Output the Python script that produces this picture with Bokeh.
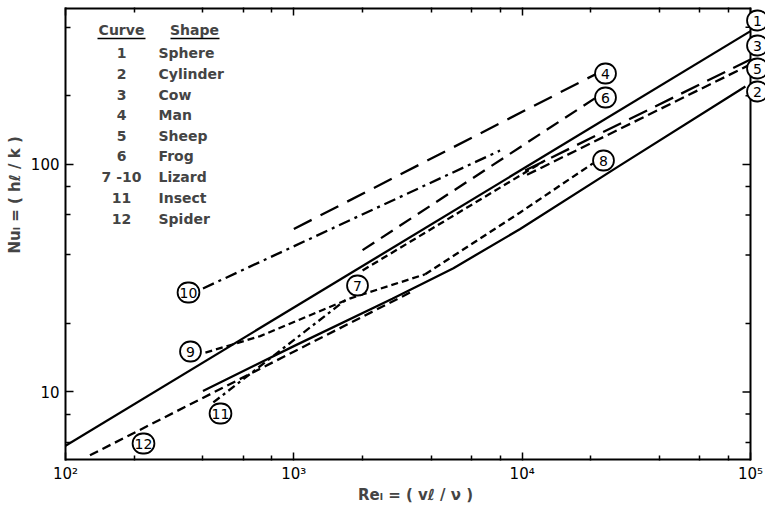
import math
from bokeh.plotting import figure
from bokeh.models import Label, LogAxis, FixedTicker, Range1d
from bokeh.embed import file_html
from bokeh.resources import INLINE

# ---------------- data ----------------
re_sphere = [100, 100000]
nu_sphere = [5.8, 385]

re_cylinder = [400, 1000, 2700, 5000, 9800, 26000, 95000]
nu_cylinder = [10.1, 15.9, 25.7, 35.0, 52, 97, 220]

re_cow = [10300, 100000]
nu_cow = [94, 289]

re_man = [1000, 21300]
nu_man = [52, 251]

re_sheep = [10500, 100000]
nu_sheep = [90, 275]

re_frog = [2000, 20800]
nu_frog = [42, 195]

re_liz7 = [2000, 12600]
nu_liz7 = [34.2, 104]

re_liz8 = [3760, 9800, 20400]
nu_liz8 = [32.9, 61.5, 101]

re_liz9 = [410, 713, 1770, 3760]
nu_liz9 = [14.9, 17.6, 25.8, 32.9]

re_liz10 = [400, 8000]
nu_liz10 = [28.5, 115]

re_insect = [444, 1680]
nu_insect = [9.0, 25.3]

re_spider = [128, 3240]
nu_spider = [5.27, 27.4]

x_major = [100, 1000, 10000, 100000]
x_major_labels = ["10\u00b2", "10\u00b3", "10\u2074", "10\u2075"]
x_minor = [200, 400, 600, 800, 2000, 4000, 6000, 8000, 20000, 40000, 60000, 80000]
y_major = [10, 100]
y_major_labels = ["10", "100"]
y_minor = [6, 8, 20, 40, 60, 80, 200, 400]

legend_curves = ["1", "2", "3", "4", "5", "6", "7 -10", "11", "12"]
legend_shapes = ["Sphere", "Cylinder", "Cow", "Man", "Sheep", "Frog", "Lizard", "Insect", "Spider"]

# ---------------- layout ----------------
W, H = 765, 507
FL, FR, FT, FB = 65, 750, 7, 460     # plotting box on the page (right edge = Re 1e5)
X0, X1 = 100, 100000
Y0, Y1 = 5.0, 489
PPX = (FR - FL) / (math.log10(X1) - math.log10(X0))
PPY = (FB - FT) / (math.log10(Y1) - math.log10(Y0))
X_END = 10 ** (math.log10(X1) + (W - FR) / PPX)   # frame extends to the canvas edge

def at(px, py):
    """page pixel position -> data position (for text placement only)"""
    return (10 ** (math.log10(X0) + (px - FL) / PPX),
            10 ** (math.log10(Y1) - (py - FT) / PPY))

FONT = "DejaVu Sans"

p = figure(width=W, height=H, x_axis_type="log", y_axis_type="log",
           x_range=Range1d(X0, X_END), y_range=Range1d(Y0, Y1),
           output_backend="svg", toolbar_location=None,
           min_border_left=FL, min_border_right=0, min_border_top=FT, min_border_bottom=H - FB)
p.xgrid.visible = False
p.ygrid.visible = False
p.outline_line_color = None
p.background_fill_color = "white"
p.border_fill_color = "white"

def style_axis(ax, labels=True):
    ax.axis_line_color = "black"
    ax.axis_line_width = 2
    ax.major_tick_in = 8
    ax.major_tick_out = 0
    ax.minor_tick_in = 5
    ax.minor_tick_out = 0
    ax.major_tick_line_width = 1.5
    ax.minor_tick_line_width = 1.5
    ax.major_tick_line_color = "black"
    ax.minor_tick_line_color = "black"
    if labels:
        ax.major_label_text_font = FONT
        ax.major_label_text_font_size = "15px"
        ax.major_label_text_color = "black"
    else:
        ax.major_label_text_font_size = "1px"
        ax.major_label_text_alpha = 0
        ax.major_label_standoff = 0

xa = p.xaxis[0]
xa.ticker = FixedTicker(ticks=x_major, minor_ticks=x_minor)
xa.major_label_overrides = {v: s for v, s in zip(x_major, x_major_labels)}
style_axis(xa)
xa.axis_line_color = None
xa.major_label_standoff = 4
xa.axis_label = "Re\u2097 = ( v\u2113 / \u03bd )"
xa.axis_label_text_font = FONT
xa.axis_label_text_font_style = "bold"
xa.axis_label_text_font_size = "15px"
xa.axis_label_standoff = 0

ya = p.yaxis[0]
ya.ticker = FixedTicker(ticks=y_major, minor_ticks=y_minor)
ya.major_label_overrides = {v: s for v, s in zip(y_major, y_major_labels)}
style_axis(ya)
ya.major_label_standoff = 6
ya.axis_label = "\u00a0" * 15 + "Nu\u2097 = ( h\u2113 / k )"
ya.axis_label_text_font = FONT
ya.axis_label_text_font_style = "bold"
ya.axis_label_text_font_size = "15px"
ya.axis_label_standoff = 4

top = LogAxis(ticker=FixedTicker(ticks=x_major, minor_ticks=x_minor))
style_axis(top, labels=False)
top.axis_line_color = None
p.add_layout(top, "above")

# box edges that stop at Re = 1e5 (top, bottom, right) and right-hand ticks
p.segment(x0=[X0, X0], y0=[Y0, Y1], x1=[X1, X1], y1=[Y0, Y1], line_width=4, color="black")
p.segment(x0=[X1], y0=[Y0], x1=[X1], y1=[Y1], line_width=2, color="black")
p.segment(x0=[X1] * len(y_major), y0=y_major,
          x1=[X1 / 10 ** (8 / PPX)] * len(y_major), y1=y_major, line_width=1.5, color="black")
p.segment(x0=[X1] * len(y_minor), y0=y_minor,
          x1=[X1 / 10 ** (5 / PPX)] * len(y_minor), y1=y_minor, line_width=1.5, color="black")

# ---------------- curves ----------------
LW = 2.3
p.line(re_sphere, nu_sphere, line_width=LW, color="black")
p.line(re_cylinder, nu_cylinder, line_width=LW, color="black")
p.line(re_cow, nu_cow, line_width=LW, color="black", line_dash="20 9")
p.line(re_sheep, nu_sheep, line_width=LW, color="black", line_dash="10 5")
p.line(re_man, nu_man, line_width=LW, color="black", line_dash="20 10")
p.line(re_frog, nu_frog, line_width=LW, color="black", line_dash="14 8")
p.line(re_liz7, nu_liz7, line_width=LW, color="black", line_dash="7 4")
p.line(re_liz8, nu_liz8, line_width=LW, color="black", line_dash="7 4")
p.line(re_liz9, nu_liz9, line_width=LW, color="black", line_dash="7 4")
p.line(re_liz10, nu_liz10, line_width=LW, color="black", line_dash="12 5 3 5")
p.line(re_insect, nu_insect, line_width=LW, color="black", line_dash="8 4 3 4")
p.line(re_spider, nu_spider, line_width=LW, color="black", line_dash="9 5")

# ---------------- circled curve numbers ----------------
circle_labels = [
    ("1", 757, 20), ("3", 757, 45), ("5", 757, 68), ("2", 757, 91),
    ("4", 605, 73), ("6", 605, 97), ("8", 603, 160), ("7", 357, 285),
    ("10", 188, 292), ("9", 190, 351), ("11", 220, 413), ("12", 143, 443),
]
for txt, px, py in circle_labels:
    x, y = at(px, py)
    hp = 6 if len(txt) == 1 else 2
    p.add_layout(Label(x=x, y=y, text=txt, text_align="center", text_baseline="middle",
                       text_font=FONT, text_font_size="14px", text_color="black",
                       background_fill_color="white",
                       border_line_color="black", border_line_width=1.8,
                       border_radius=11,
                       padding=dict(left=hp, right=hp, top=5, bottom=5)))

# ---------------- legend table ----------------
hx1, hy = at(121, 29)
hx2, _ = at(194, 29)
for hx, ht in ((hx1, "Curve"), (hx2, "Shape")):
    p.add_layout(Label(x=hx, y=hy, text=ht, text_align="center", text_baseline="middle",
                       text_font=FONT, text_font_style="bold", text_font_size="14px"))
u1a, uy = at(97, 38)
u1b, _ = at(145, 38)
u2a, _ = at(170, 38)
u2b, _ = at(219, 38)
p.segment(x0=[u1a, u2a], y0=[uy, uy], x1=[u1b, u2b], y1=[uy, uy], line_width=1.5, color="black")

row_y = [52, 73, 94, 114, 135, 155, 176, 197, 218]
for c, s, py in zip(legend_curves, legend_shapes, row_y):
    cx, cy = at(121, py)
    sx, _ = at(158, py)
    p.add_layout(Label(x=cx, y=cy, text=c, text_align="center", text_baseline="middle",
                       text_font=FONT, text_font_style="bold", text_font_size="14px"))
    p.add_layout(Label(x=sx, y=cy, text=s, text_align="left", text_baseline="middle",
                       text_font=FONT, text_font_style="bold", text_font_size="14px"))

open("out.html", "w").write(file_html(p, INLINE))
